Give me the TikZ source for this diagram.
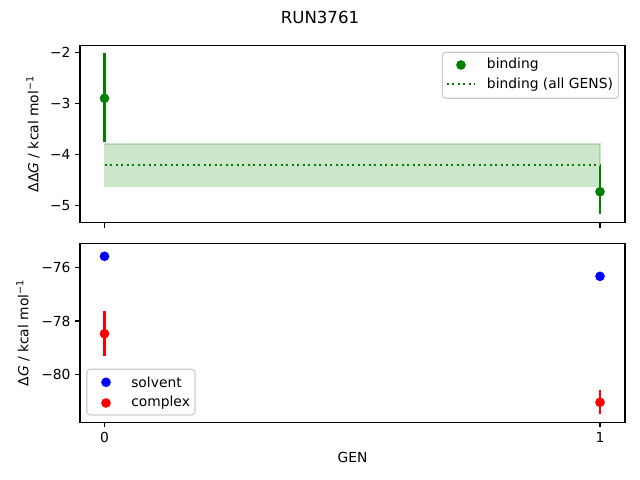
\documentclass[tikz,border=0pt]{standalone}
\usepackage{fontspec}
\setmainfont{DejaVu Sans}
\definecolor{mplgreen}{RGB}{0,128,0}
\definecolor{mplblue}{RGB}{0,0,255}
\definecolor{mplred}{RGB}{255,0,0}
\definecolor{legendedge}{gray}{0.8}
\begin{document}
\begin{tikzpicture}[x=0.01in,y=-0.01in,
    axisframe/.style={line width=0.8pt},
    tickmark/.style={line width=0.8pt},
    txt/.style={font=\fontsize{10}{12}\selectfont, inner sep=0pt},
    errbar/.style={line width=1.5pt},
    dot/.style={circle, fill, inner sep=0pt, minimum size=7pt},
    legendbox/.style={draw=legendedge, fill=white, fill opacity=0.8, rounded corners=2.5pt, line width=0.8pt}]
    \useasboundingbox (0,0) rectangle (640,480);
    \node[font=\fontsize{12}{14}\selectfont, inner sep=0pt] (title) at (320,17) {RUN3761};
    % top axes
    \draw (80,45.3) coordinate (TA) (625,222.8) coordinate (TB);
    \fill[mplgreen, opacity=0.2] (104.5,144) rectangle (600,186.3);
    \draw[mplgreen, opacity=0.2, line width=1pt] (104.5,144) rectangle (600,186.3);
    \draw[mplgreen, line width=1.5pt, dash pattern=on 1.5pt off 2.475pt] (104.5,165) coordinate (L0) -- (600,165) coordinate (L1);
    \draw (104.5,53) coordinate (b0top) (104.5,141.7) coordinate (b0bot);
    \draw (600,166) coordinate (b1top) (600,214.3) coordinate (b1bot);
    \draw[errbar, mplgreen] (b0top) -- (b0bot);
    \draw[errbar, mplgreen] (b1top) -- (b1bot);
    \node[dot, mplgreen] (b0) at (104.5,98.3) {};
    \node[dot, mplgreen] (b1) at (600,191.7) {};
    \draw[axisframe] (TA) rectangle (TB);
    \foreach \y/\lab in {52.3/2, 103.4/3, 154.5/4, 205.6/5} {
        \draw[tickmark] (80,\y) -- (75.1,\y);
        \node[txt, anchor=east] at (70.8,\y) {−\lab};
    }
    \foreach \x in {104.5, 600} {
        \draw[tickmark] (\x,222.8) -- (\x,227.7);
    }
    \node[txt, rotate=90] (ylabtop) at (33,134) {ΔΔ\textit{G} / kcal mol\textsuperscript{−1}};
    % top legend
    \draw[legendbox] (442.3,52.3) rectangle (618.3,98.3);
    \node[dot, mplgreen] (legb) at (461,65) {};
    \node[txt, anchor=west] (legbtxt) at (486.7,65) {binding};
    \draw[mplgreen, line width=1.5pt, dash pattern=on 1.5pt off 2.475pt] (446.7,84.3) coordinate (LL0) -- (474.3,84.3) coordinate (LL1);
    \node[txt, anchor=west] (legalltxt) at (486.7,84.3) {binding (all GENS)};
    % bottom axes
    \draw (80,243.3) coordinate (BA) (625,422.3) coordinate (BB);
    \draw (104.5,330.3) coordinate (c0top) (104.5,356) coordinate (c0bot);
    \draw (600,389.6) coordinate (c1top) (600,413.8) coordinate (c1bot);
    \draw (600,273.5) coordinate (s1top) (600,279) coordinate (s1bot);
    \draw[errbar, mplred] (104.5,311) -- (c0bot);
    \draw[errbar, mplred] (c1top) -- (c1bot);
    \draw[errbar, mplblue] (s1top) -- (s1bot);
    \node[dot, mplblue] (s0) at (104.5,256.3) {};
    \node[dot, mplblue] (s1) at (600,276.3) {};
    \node[dot, mplred] (c0) at (104.5,333.7) {};
    \node[dot, mplred] (c1) at (600,402.3) {};
    \draw[axisframe] (BA) rectangle (BB);
    \foreach \y/\lab in {267.7/76, 321/78, 374.3/80} {
        \draw[tickmark] (80,\y) -- (75.1,\y);
        \node[txt, anchor=east] at (70.8,\y) {−\lab};
    }
    \foreach \x/\lab in {104.5/0, 600/1} {
        \draw[tickmark] (\x,422.3) -- (\x,427.2);
        \node[txt, anchor=north] at (\x,432) {\lab};
    }
    \node[txt, rotate=90] (ylabbot) at (23,333) {Δ\textit{G} / kcal mol\textsuperscript{−1}};
    \node[txt] (xlab) at (352.5,457) {GEN};
    % bottom legend
    \draw[legendbox] (86.7,369.3) rectangle (195,415);
    \node[dot, mplblue] (legs) at (106,382.3) {};
    \node[txt, anchor=west] (legstxt) at (131,382.3) {solvent};
    \node[dot, mplred] (legc) at (106,403) {};
    \node[txt, anchor=west] (legctxt) at (131,403) {complex};
\end{tikzpicture}
\end{document}
